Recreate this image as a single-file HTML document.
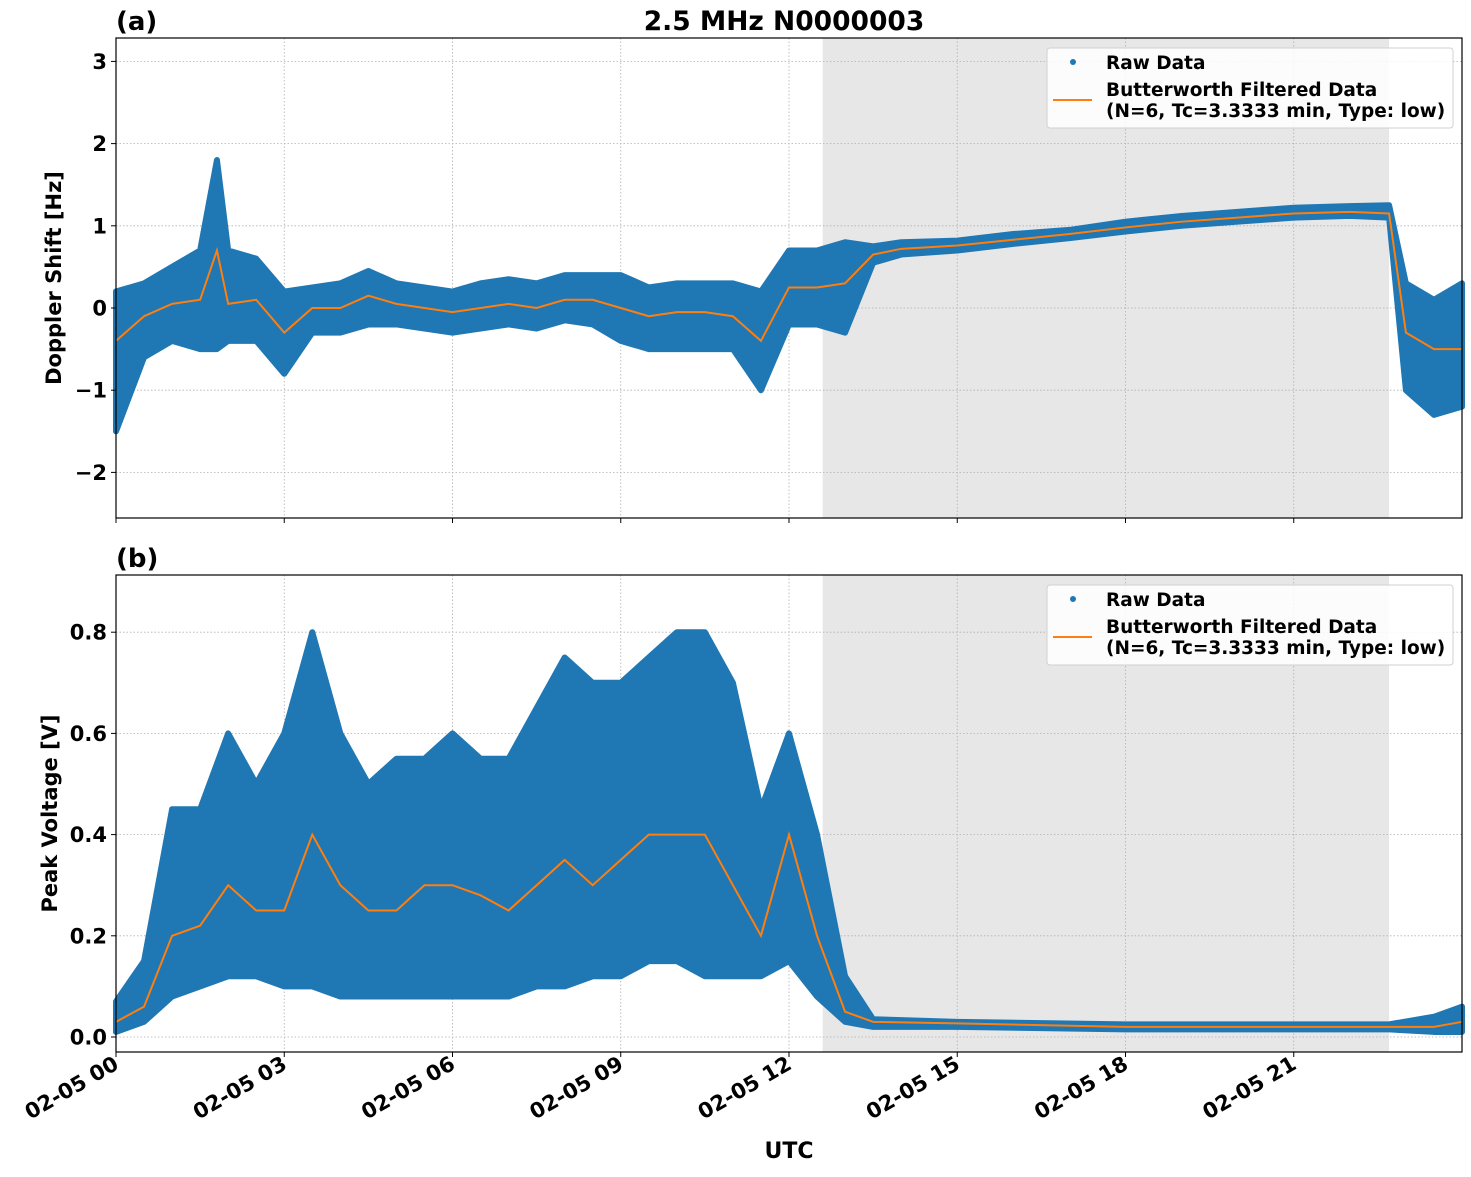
<!DOCTYPE html>
<html><head><meta charset="utf-8"><style>
body{margin:0;background:#fff}
svg text{font-family:"DejaVu Sans","Liberation Sans",sans-serif;font-weight:bold;fill:#000}
</style></head><body>
<svg id="fig" width="1471" height="1172" xmlns="http://www.w3.org/2000/svg"></svg>
<script>
// ---- data ----
const hoursA = [0,0.5,1,1.5,1.8,2,2.5,3,3.5,4,4.5,5,5.5,6,6.5,7,7.5,8,8.5,9,9.5,10,10.5,11,11.5,12,12.5,13,13.5,14,15,16,17,18,19,20,21,22,22.7,23,23.5,24];
const dopLow  = [-1.5,-0.6,-0.4,-0.5,-0.5,-0.4,-0.4,-0.8,-0.3,-0.3,-0.2,-0.2,-0.25,-0.3,-0.25,-0.2,-0.25,-0.15,-0.2,-0.4,-0.5,-0.5,-0.5,-0.5,-1.0,-0.2,-0.2,-0.3,0.55,0.65,0.7,0.78,0.85,0.93,1.0,1.05,1.1,1.12,1.1,-1.0,-1.3,-1.2];
const dopHigh = [0.2,0.3,0.5,0.7,1.8,0.7,0.6,0.2,0.25,0.3,0.45,0.3,0.25,0.2,0.3,0.35,0.3,0.4,0.4,0.4,0.25,0.3,0.3,0.3,0.2,0.7,0.7,0.8,0.75,0.8,0.82,0.9,0.95,1.05,1.12,1.17,1.22,1.24,1.25,0.3,0.1,0.3];
const dopFilt = [-0.4,-0.1,0.05,0.1,0.7,0.05,0.1,-0.3,0.0,0.0,0.15,0.05,0.0,-0.05,0.0,0.05,0.0,0.1,0.1,0.0,-0.1,-0.05,-0.05,-0.1,-0.4,0.25,0.25,0.3,0.65,0.72,0.76,0.83,0.9,0.98,1.05,1.1,1.15,1.17,1.15,-0.3,-0.5,-0.5];
const hoursB = [0,0.5,1,1.5,2,2.5,3,3.5,4,4.5,5,5.5,6,6.5,7,7.5,8,8.5,9,9.5,10,10.5,11,11.5,12,12.5,13,13.5,15,18,22.7,23.5,24];
const volLow  = [0.01,0.03,0.08,0.1,0.12,0.12,0.1,0.1,0.08,0.08,0.08,0.08,0.08,0.08,0.08,0.1,0.1,0.12,0.12,0.15,0.15,0.12,0.12,0.12,0.15,0.08,0.03,0.02,0.02,0.015,0.015,0.01,0.01];
const volHigh = [0.07,0.15,0.45,0.45,0.6,0.5,0.6,0.8,0.6,0.5,0.55,0.55,0.6,0.55,0.55,0.65,0.75,0.7,0.7,0.75,0.8,0.8,0.7,0.45,0.6,0.4,0.12,0.035,0.03,0.025,0.025,0.04,0.06];
const volFilt = [0.03,0.06,0.2,0.22,0.3,0.25,0.25,0.4,0.3,0.25,0.25,0.3,0.3,0.28,0.25,0.3,0.35,0.3,0.35,0.4,0.4,0.4,0.3,0.2,0.4,0.2,0.05,0.03,0.027,0.02,0.02,0.02,0.03];
const dopTicks = [3,2,1,0,-1,-2];
const volTicks = [0.8,0.6,0.4,0.2,0.0];
const xTickHours = [0,3,6,9,12,15,18,21];
const xTickLabels = ["02-05 00","02-05 03","02-05 06","02-05 09","02-05 12","02-05 15","02-05 18","02-05 21"];
const shade = [12.6,22.7];

const NS="http://www.w3.org/2000/svg", svg=document.getElementById('fig');
function el(t,a,p){const e=document.createElementNS(NS,t);for(const k in a)e.setAttribute(k,a[k]);(p||svg).appendChild(e);return e;}
const X0=116,X1=1462;
const xs=h=>X0+(X1-X0)*h/24;
const ysA=v=>308-82.2*v;
const ysB=v=>1037-506*v;
const BLUE="#1f77b4",ORANGE="#ff7f0e";

function panel(name,top,bot,ys,ticks,fmt,hours,lo,hi,filt,ylabel,letter,ylx){
  const g=el('g',{});
  
  
  const sh=el('rect',{x:xs(shade[0]),y:top,width:xs(shade[1])-xs(shade[0]),height:bot-top,fill:"#e7e7e7"},g);
  
  
  xTickHours.forEach(h=>{el('line',{x1:xs(h),x2:xs(h),y1:top,y2:bot,stroke:"#b0b0b0","stroke-width":0.8,"stroke-dasharray":"1.5,2"},g);});
  ticks.forEach(v=>{el('line',{x1:X0,x2:X1,y1:ys(v),y2:ys(v),stroke:"#b0b0b0","stroke-width":0.8,"stroke-dasharray":"1.5,2"},g);});
  let pts=hours.map((h,i)=>xs(h)+","+ys(hi[i]));
  for(let i=hours.length-1;i>=0;i--)pts.push(xs(hours[i])+","+ys(lo[i]));
  const band=el('polygon',{points:pts.join(" "),fill:BLUE,stroke:BLUE,"stroke-width":6,"stroke-linejoin":"round"},g);
  
  
  const ln=el('polyline',{points:hours.map((h,i)=>xs(h)+","+ys(filt[i])).join(" "),fill:"none",stroke:ORANGE,"stroke-width":2},g);
  
  
  el('rect',{x:X0,y:top,width:X1-X0,height:bot-top,fill:"none",stroke:"#000","stroke-width":1.2},g);
  ticks.forEach(v=>{
    el('line',{x1:X0-5,x2:X0,y1:ys(v),y2:ys(v),stroke:"#000","stroke-width":1},g);
    const t=el('text',{x:X0-9,y:ys(v)+7.5,"text-anchor":"end","font-size":21},g);t.textContent=fmt(v);
    
    
  });
  xTickHours.forEach(h=>el('line',{x1:xs(h),x2:xs(h),y1:bot,y2:bot+5,stroke:"#000","stroke-width":1},g));
  const yl=el('text',{transform:`translate(${ylx},${(top+bot)/2}) rotate(-90)`,"text-anchor":"middle","font-size":21},g);
  yl.textContent=ylabel;
  
  
  const lt=el('text',{x:116,y:top-8,"font-size":26},g);lt.textContent=letter;
  
  
  const lg=el('g',{},g);
  
  
  const ly=top+10;
  el('rect',{x:1047,y:ly,width:406,height:80,rx:3,fill:"#fff","fill-opacity":0.85,stroke:"#d0d0d0"},lg);
  el('circle',{cx:1073,cy:ly+14,r:3,fill:BLUE},lg);
  const t1=el('text',{x:1106,y:ly+21,"font-size":18.5},lg);t1.textContent="Raw Data";
  el('line',{x1:1053,x2:1092,y1:ly+52,y2:ly+52,stroke:ORANGE,"stroke-width":2},lg);
  const t2=el('text',{x:1106,y:ly+48,"font-size":18.5},lg);t2.textContent="Butterworth Filtered Data";
  const t3=el('text',{x:1106,y:ly+69,"font-size":18.5},lg);t3.textContent="(N=6, Tc=3.3333 min, Type: low)";
}
panel('doppler-panel',38,518,ysA,dopTicks,v=>v<0?"\u2212"+(-v):String(v),hoursA,dopLow,dopHigh,dopFilt,"Doppler Shift [Hz]","(a)",61);
panel('voltage-panel',575,1052,ysB,volTicks,v=>v.toFixed(1),hoursB,volLow,volHigh,volFilt,"Peak Voltage [V]","(b)",57);
xTickHours.forEach((h,i)=>{
  const t=el('text',{transform:`translate(${xs(h)+4},${1068}) rotate(-30)`,"text-anchor":"end","font-size":21});
  t.textContent=xTickLabels[i];
  
  
});
const ut=el('text',{x:789,y:1158,"text-anchor":"middle","font-size":22});ut.textContent="UTC";


const tt=el('text',{x:784,y:30,"text-anchor":"middle","font-size":26.5});tt.textContent="2.5 MHz N0000003";


</script>
</body></html>
